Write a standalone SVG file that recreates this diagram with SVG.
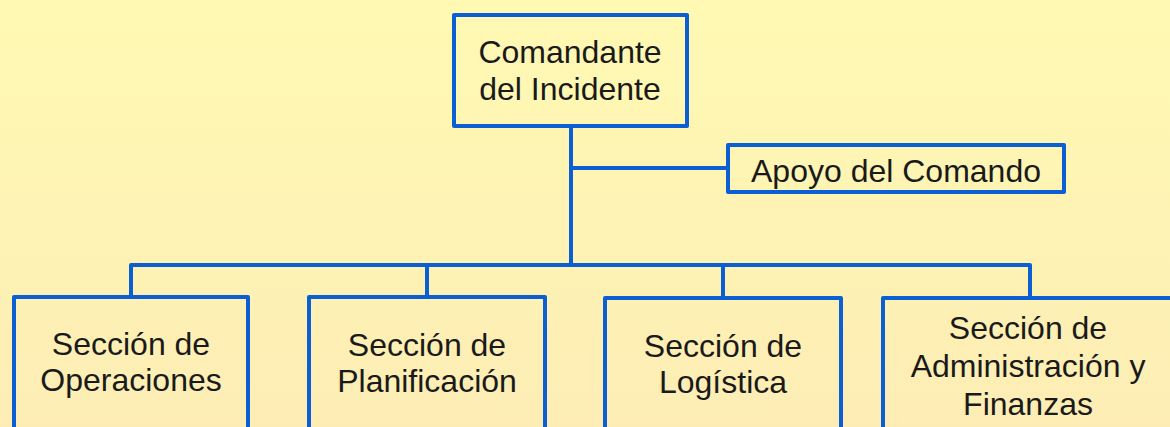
<svg xmlns="http://www.w3.org/2000/svg" width="1170" height="427" viewBox="0 0 1170 427">
<defs>
<linearGradient id="bg" x1="0" y1="0" x2="0" y2="1">
<stop offset="0" stop-color="#FFF9B3"/>
<stop offset="1" stop-color="#FDEDB5"/>
</linearGradient>
</defs>
<style>
.box{fill:none;stroke:#0B5FD3;stroke-width:4;stroke-linejoin:round}
.conn{fill:none;stroke:#0B5FD3;stroke-width:4;stroke-linejoin:round}
.t{font-family:"Liberation Sans",Arial,sans-serif;font-size:32px;fill:#1A1A1A;text-anchor:middle}
</style>
<rect width="1170" height="427" fill="url(#bg)"/>
<g id="connectors">
<path class="conn" d="M571 126 V265"/>
<path class="conn" d="M571 168 H728"/>
<path class="conn" d="M131 297 V265 H1030 V298"/>
<path class="conn" d="M427 265 V297"/>
<path class="conn" d="M723 265 V298"/>
</g>
<g id="comandante">
<rect class="box" x="454" y="15" width="233" height="111"/>
<text class="t" x="570" y="63">Comandante</text>
<text class="t" x="570" y="100">del Incidente</text>
</g>
<g id="apoyo">
<rect class="box" x="728" y="145" width="336" height="47"/>
<text class="t" x="896" y="182">Apoyo del Comando</text>
</g>
<g id="operaciones">
<rect class="box" x="14" y="297" width="234" height="150"/>
<text class="t" x="131" y="355">Sección de</text>
<text class="t" x="131" y="391">Operaciones</text>
</g>
<g id="planificacion">
<rect class="box" x="309" y="297" width="236" height="150"/>
<text class="t" x="427" y="356">Sección de</text>
<text class="t" x="427" y="392">Planificación</text>
</g>
<g id="logistica">
<rect class="box" x="605" y="298" width="236" height="150"/>
<text class="t" x="723" y="357">Sección de</text>
<text class="t" x="723" y="393">Logística</text>
</g>
<g id="administracion">
<rect class="box" x="883" y="298" width="292" height="150"/>
<text class="t" x="1028" y="339">Sección de</text>
<text class="t" x="1028" y="377">Administración y</text>
<text class="t" x="1028" y="415">Finanzas</text>
</g>
</svg>
